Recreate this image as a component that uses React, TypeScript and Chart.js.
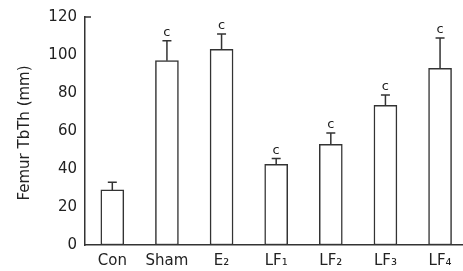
import React, { useEffect, useRef } from "react";
import { Chart, registerables } from "chart.js";

Chart.register(...registerables);

const categories = ["Con", "Sham", "E₂", "LF₁", "LF₂", "LF₃", "LF₄"];
const means = [29, 97, 103, 42.5, 53, 73.5, 93];
const errors = [4, 10.5, 8, 3, 6, 5.5, 16];
const marks = ["", "c", "c", "c", "c", "c", "c"];
const yTicks = [0, 20, 40, 60, 80, 100, 120];
const yTitle = "Femur TbTh (mm)";

const FONT = "'DejaVu Sans', sans-serif";
const LINE = "#333";

export default function App() {
  const ref = useRef<HTMLCanvasElement | null>(null);

  useEffect(() => {
    document.body.style.margin = "0";
    const canvas = ref.current!;
    const overlay = {
      id: "overlay",
      afterDatasetsDraw(chart: any) {
        const ctx = chart.ctx;
        const xs = chart.scales.x;
        const ys = chart.scales.y;
        ctx.save();
        ctx.strokeStyle = LINE;
        ctx.lineWidth = 1.5;
        means.forEach((m, i) => {
          const x = xs.getPixelForValue(i);
          const yTop = ys.getPixelForValue(m);
          const yErr = ys.getPixelForValue(m + errors[i]);
          ctx.beginPath();
          ctx.moveTo(x, yTop);
          ctx.lineTo(x, yErr);
          ctx.moveTo(x - 4.5, yErr);
          ctx.lineTo(x + 4.5, yErr);
          ctx.stroke();
          if (marks[i]) {
            ctx.fillStyle = "#222";
            ctx.font = `13px ${FONT}`;
            ctx.textAlign = "center";
            ctx.textBaseline = "alphabetic";
            ctx.fillText(marks[i], x, yErr - 5);
          }
        });
        // top tick on y axis
        const ca = chart.chartArea;
        ctx.beginPath();
        ctx.moveTo(ca.left, ys.getPixelForValue(120));
        ctx.lineTo(ca.left + 6, ys.getPixelForValue(120));
        ctx.stroke();
        // y title
        ctx.fillStyle = "#222";
        ctx.font = `15px ${FONT}`;
        ctx.textAlign = "center";
        ctx.textBaseline = "middle";
        ctx.translate(25, (ca.top + ca.bottom) / 2 + 2);
        ctx.rotate(-Math.PI / 2);
        ctx.fillText(yTitle, 0, 0);
        ctx.restore();
      },
    };

    const chart = new Chart(canvas, {
      type: "bar",
      data: {
        datasets: [
          {
            data: means.map((v, i) => ({ x: i, y: v })),
            backgroundColor: "#ffffff",
            borderColor: LINE,
            borderWidth: 1.5,
            borderSkipped: false,
            barThickness: 23,
          },
        ],
      },
      options: {
        responsive: false,
        animation: false,
        layout: { padding: { top: 17, left: 0, right: 0, bottom: 0 } },
        plugins: { legend: { display: false }, tooltip: { enabled: false } },
        scales: {
          x: {
            type: "linear",
            offset: false,
            min: -0.5,
            max: 6.42,
            grid: { display: false, drawTicks: false, offset: false },
            border: { display: true, color: LINE, width: 1.5 },
            afterBuildTicks: (s: any) => {
              s.ticks = categories.map((_, i) => ({ value: i }));
            },
            afterFit: (s: any) => {
              s.height = 26;
            },
            ticks: {
              autoSkip: false,
              maxRotation: 0,
              padding: 7,
              color: "#222",
              font: { family: FONT, size: 15 },
              callback: (v: any) => categories[Math.round(Number(v))] ?? "",
            },
          },
          y: {
            min: 0,
            max: 120,
            grid: { display: false, drawTicks: false },
            border: { display: true, color: LINE, width: 1.5 },
            afterBuildTicks: (s: any) => {
              s.ticks = yTicks.map((v) => ({ value: v }));
            },
            afterFit: (s: any) => {
              s.width = 85;
            },
            ticks: {
              padding: 8,
              color: "#222",
              font: { family: FONT, size: 15 },
            },
          },
        },
      },
      plugins: [overlay],
    } as any);
    return () => chart.destroy();
  }, []);

  return (
    <div style={{ position: "absolute", left: 0, top: 0, width: 463, height: 271 }}>
      <canvas ref={ref} width={463} height={271} style={{ display: "block" }} />
    </div>
  );
}
